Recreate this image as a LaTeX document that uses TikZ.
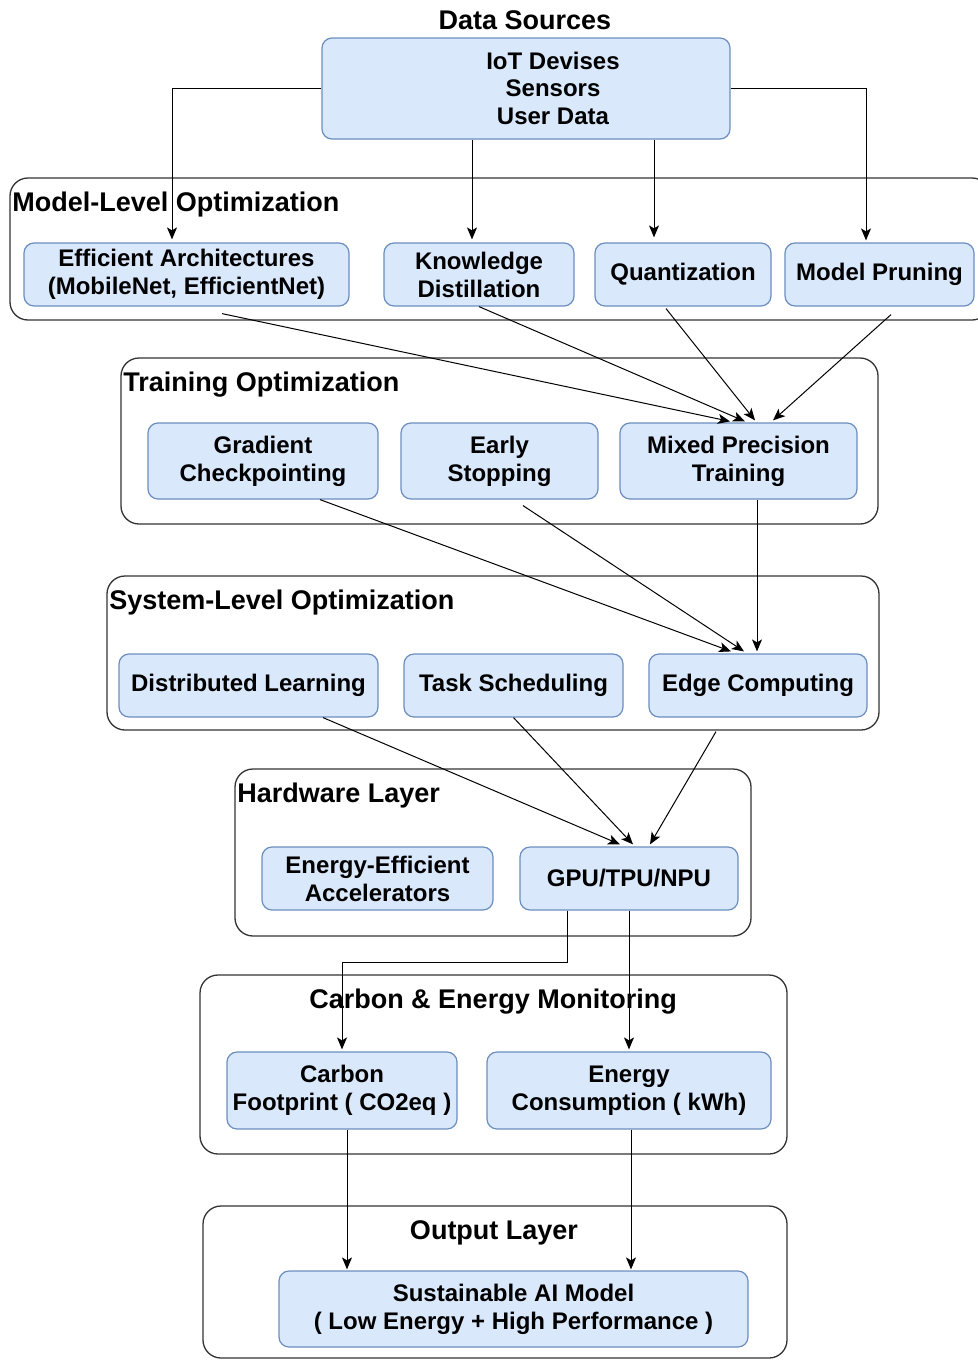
\documentclass[tikz,border=0pt]{standalone}
\usepackage{fontspec}
\setmainfont{Liberation Sans}
\usetikzlibrary{arrows.meta,calc}
\definecolor{nfill}{HTML}{DAE8FC}
\definecolor{nline}{HTML}{6C8EBF}
\definecolor{gline}{HTML}{333333}
\tikzset{
  nodebox/.style={draw=nline, fill=nfill, line width=0.6pt, rounded corners=5pt, align=center,
    inner sep=0pt, font=\bfseries\fontsize{12}{14}\selectfont},
  grp/.style={draw=gline, fill=white, line width=0.65pt, rounded corners=9pt},
  grplabel/.style={inner sep=0pt, font=\bfseries\fontsize{13.5}{16}\selectfont},
  txt/.style={inner sep=0pt, align=center, font=\bfseries\fontsize{12}{13.75}\selectfont},
  arr/.style={draw=black, line width=0.5pt, -{Stealth[length=6pt,width=5pt,inset=1.5pt]}}
}
\begin{document}
\begin{tikzpicture}[x=0.5pt,y=-0.5pt]
\useasboundingbox (0,0) rectangle (978,1360);
\fill[white] (0,0) rectangle (978,1360);
% groups
\draw[grp] (10,178) rectangle (990,320);
\draw[grp] (121,358) rectangle (878,524);
\draw[grp] (107,576) rectangle (879,730);
\draw[grp] (235,769) rectangle (751,936);
\draw[grp] (200,975) rectangle (787,1154);
\draw[grp] (203,1206) rectangle (787,1358);
% group labels
\node[grplabel] (lds) at (525,20) {Data Sources};
\node[grplabel, anchor=west] (lmo) at (12,205) {Model-Level Optimization};
\node[grplabel, anchor=west] (lto) at (123,385) {Training Optimization};
\node[grplabel, anchor=west] (lso) at (109,603) {System-Level Optimization};
\node[grplabel, anchor=west] (lhw) at (237,796) {Hardware Layer};
\node[grplabel] (lce) at (493,1002) {Carbon \& Energy Monitoring};
\node[grplabel] (lol) at (494,1233) {Output Layer};
% nodes
\node[nodebox, minimum width=204pt, minimum height=50.5pt] (src) at (526,88.5) {};
\node[txt] (srctext) at (553,88) {IoT Devises\\Sensors\\User Data};
\node[nodebox, minimum width=162.5pt, minimum height=31.5pt] (ea) at (186.5,274.5) {Efficient Architectures\\(MobileNet, EfficientNet)};
\node[nodebox, minimum width=95pt, minimum height=31.5pt] (kd) at (479,274.5) {Knowledge\\Distillation};
\node[nodebox, minimum width=88pt, minimum height=31.5pt] (qz) at (683,274.5) {Quantization};
\node[nodebox, minimum width=94.5pt, minimum height=31.5pt] (mp) at (879.5,274.5) {Model Pruning};
\node[nodebox, minimum width=115pt, minimum height=38pt] (gc) at (263,461) {Gradient\\Checkpointing};
\node[nodebox, minimum width=98.5pt, minimum height=38pt] (es) at (499.5,461) {Early\\Stopping};
\node[nodebox, minimum width=118.5pt, minimum height=38pt] (mpt) at (738.5,461) {Mixed Precision\\Training};
\node[nodebox, minimum width=129.5pt, minimum height=31.5pt] (dl) at (248.5,685.5) {Distributed Learning};
\node[nodebox, minimum width=109.5pt, minimum height=31.5pt] (ts) at (513.5,685.5) {Task Scheduling};
\node[nodebox, minimum width=109pt, minimum height=31.5pt] (ec) at (758,685.5) {Edge Computing};
\node[nodebox, minimum width=115.5pt, minimum height=31.5pt] (eea) at (377.5,878.5) {Energy-Efficient\\Accelerators};
\node[nodebox, minimum width=109pt, minimum height=31.5pt] (gpu) at (629,878.5) {GPU/TPU/NPU};
\node[nodebox, minimum width=115pt, minimum height=38.5pt] (cf) at (342,1090.5) {Carbon\\Footprint ( CO2eq )};
\node[nodebox, minimum width=142pt, minimum height=38.5pt] (ecn) at (629,1090.5) {Energy\\Consumption ( kWh)};
\node[nodebox, minimum width=234.5pt, minimum height=38pt] (sai) at (513.5,1309) {Sustainable AI Model\\( Low Energy + High Performance )};
% connectors: data sources
\draw[arr] (src.west) -| ([xshift=-7.25pt,yshift=1.5pt]ea.north);
\draw[arr] ([xshift=-3.5pt]kd.north |- src.south) -- ([xshift=-3.5pt,yshift=1.5pt]kd.north);
\draw[arr] ([xshift=-14.5pt]qz.north |- src.south) -- ([xshift=-14.5pt,yshift=2.5pt]qz.north);
\draw[arr] (src.east) -| ([xshift=-6.75pt,yshift=1pt]mp.north);
% model-level -> mixed precision
\draw[arr] ([xshift=17.75pt,yshift=-3.5pt]ea.south) -- ([xshift=-4.25pt,yshift=0.5pt]mpt.north);
\draw[arr] (kd.south) -- ([xshift=3.25pt,yshift=0.5pt]mpt.north);
\draw[arr] ([xshift=-8.5pt,yshift=-1pt]qz.south) -- ([xshift=8.25pt,yshift=1pt]mpt.north);
\draw[arr] ([xshift=5.75pt,yshift=-4pt]mp.south) -- ([xshift=17.25pt,yshift=1pt]mpt.north);
% training -> edge computing
\draw[arr] ([xshift=28.5pt]gc.south) -- ([xshift=-13.5pt,yshift=1pt]ec.north);
\draw[arr] ([xshift=11.75pt,yshift=-3pt]es.south) -- ([xshift=-7pt,yshift=1pt]ec.north);
\draw[arr] ([xshift=9.25pt]mpt.south) -- ([xshift=9.25pt,yshift=1pt]mpt.south |- ec.north);
% system -> gpu
\draw[arr] ([xshift=37.25pt]dl.south) -- ([xshift=-4.5pt,yshift=1pt]gpu.north);
\draw[arr] (ts.south) -- ([xshift=2pt,yshift=1pt]gpu.north);
\draw[arr] ([xshift=-21pt,yshift=-7pt]ec.south) -- ([xshift=10.5pt,yshift=1pt]gpu.north);
% gpu -> monitoring
\draw[arr] ([xshift=-31pt]gpu.south) -- ++(0pt,-26pt) -| ([yshift=1pt]cf.north);
\draw[arr] (gpu.south) -- ([yshift=1pt]ecn.north);
% monitoring -> output
\draw[arr] ([xshift=2.5pt]cf.south) -- ([xshift=2.5pt,yshift=0.5pt]cf.south |- sai.north);
\draw[arr] ([xshift=1pt]ecn.south) -- ([xshift=1pt,yshift=0.5pt]ecn.south |- sai.north);
\end{tikzpicture}
\end{document}
